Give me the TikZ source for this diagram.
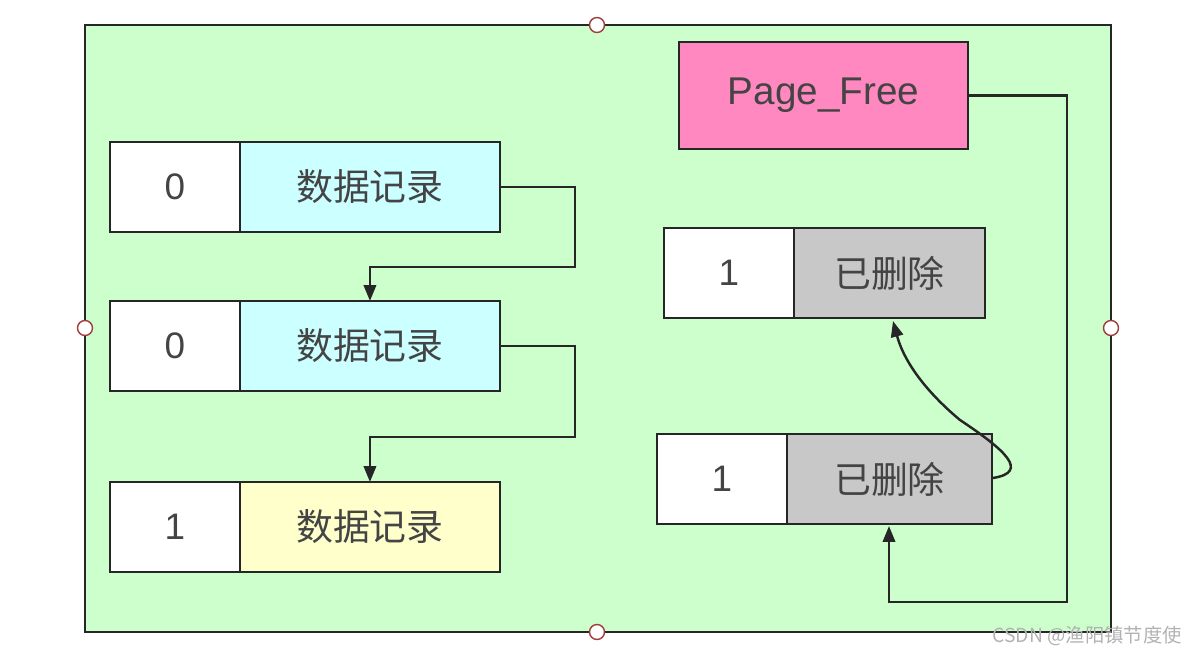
\documentclass[tikz,border=0pt]{standalone}
\usepackage{fontspec}
\setmainfont{Noto Sans CJK SC}
\newfontfamily\latinfont{Liberation Sans}
\usetikzlibrary{arrows.meta,positioning,calc}
\definecolor{pagegreen}{RGB}{204,255,204}
\definecolor{reccyan}{RGB}{204,255,255}
\definecolor{recyellow}{RGB}{255,255,204}
\definecolor{freepink}{RGB}{255,136,192}
\definecolor{delgray}{RGB}{200,200,200}
\definecolor{txtgray}{RGB}{68,68,68}
\definecolor{handlered}{RGB}{160,60,60}

\begin{document}
\begin{tikzpicture}[x=0.02cm,y=-0.02cm,
  cell/.style={rectangle,draw=black!85,line width=1.4pt,outer sep=0pt,minimum height=1.8cm,inner sep=0pt,
    text=txtgray,font=\fontsize{21}{24}\selectfont},
  flag/.style={cell,fill=white,minimum width=2.6cm},
  rec/.style={cell,minimum width=5.2cm},
  link/.style={line width=1.4pt,draw=black!85,-{Triangle[length=9pt,width=7pt]}},
  handle/.style={circle,draw=handlered,fill=white,line width=0.8pt,minimum size=0.3cm,inner sep=0pt}]

  \useasboundingbox (0,0) rectangle (1191,656);

  % page frame
  \draw[fill=pagegreen,line width=1.4pt,draw=black!85] (85,25) rectangle (1111,632);
  \foreach \p in {(597,25),(597,632),(85,328),(1111,328)}
    \node[handle] at \p {};

  % data records
  \node[flag,anchor=north west] (F1) at (110,142) {\latinfont 0};
  \node[rec,fill=reccyan,right=0pt of F1] (R1) {数据记录};
  \node[flag,anchor=north west] (F2) at (110,301) {\latinfont 0};
  \node[rec,fill=reccyan,right=0pt of F2] (R2) {数据记录};
  \node[flag,anchor=north west] (F3) at (110,482) {\latinfont 1};
  \node[rec,fill=recyellow,right=0pt of F3] (R3) {数据记录};

  % free list head
  \node[cell,fill=freepink,minimum width=5.78cm,minimum height=2.14cm,anchor=north west,
    font=\latinfont\fontsize{22}{26}\selectfont] (PF) at (679,42) {Page\_Free};

  % deleted records
  \node[flag,anchor=north west] (D1) at (664,228) {\latinfont 1};
  \node[cell,fill=delgray,minimum width=3.82cm,right=0pt of D1] (G1) {已删除};
  \node[flag,anchor=north west] (D2) at (657,434) {\latinfont 1};
  \node[cell,fill=delgray,minimum width=4.1cm,right=0pt of D2] (G2) {已删除};

  % record links
  \draw[link] (R1.east) -| (575,267) -| (R2.north);
  \draw[link] (R2.east) -| (575,437) -| (R3.north);

  % free links
  \draw[link] (PF.east) -| (1067,602) -| (889,526);
  \draw[link] (993,478) .. controls (1030,472) and (1005,450) .. (960,420)
    .. controls (930,395) and (905,365) .. (893,321);

  % watermark
  \node[text=black!30,font=\fontsize{11}{12}\selectfont,anchor=east] (WM) at (1188,636) {CSDN @渔阳镇节度使};
\end{tikzpicture}
\end{document}
